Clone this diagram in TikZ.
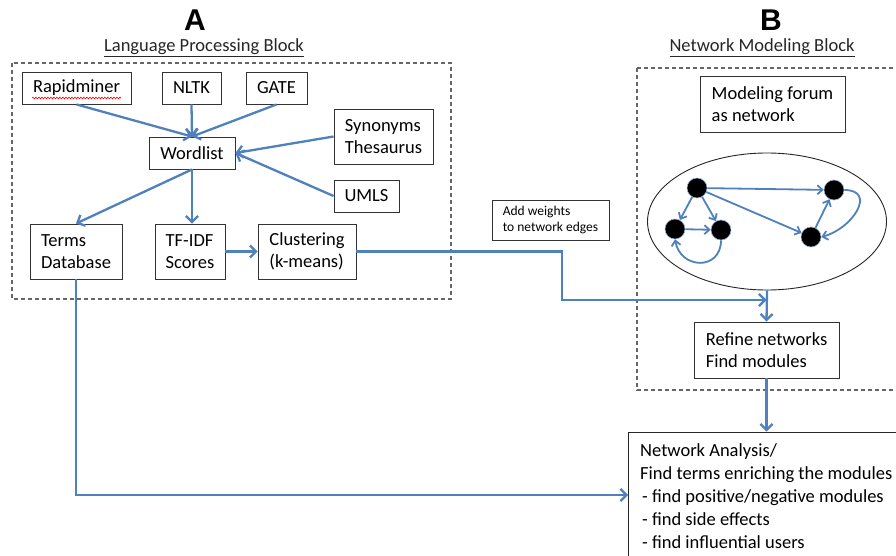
\documentclass[tikz,border=0pt]{standalone}
\usepackage{fontspec}
\setmainfont{Carlito}
\newfontfamily\arialfont{Liberation Sans}
\usetikzlibrary{arrows.meta,decorations.pathmorphing,shapes.geometric}
\definecolor{lineblue}{RGB}{79,129,189}
\begin{document}
\begin{tikzpicture}[x=1pt,y=1pt,
  box/.style={draw=black!80, line width=0.9pt, fill=white, font=\fontsize{18.5}{22}\selectfont, align=left, inner sep=0pt},
  flow/.style={draw=lineblue, line width=2.3pt, -{Straight Barb[length=6pt,width=12pt]}},
  netedge/.style={draw=lineblue, line width=1.8pt, -{Straight Barb[length=5pt,width=9pt]}},
  vtx/.style={circle, fill=black, draw=lineblue!60, line width=0.6pt, minimum size=20pt, inner sep=0pt},
  blockframe/.style={draw=black!60, line width=1.3pt, dash pattern=on 4pt off 3pt},
  heading/.style={font=\fontsize{18.5}{21}\selectfont, text=black!85},
  letter/.style={font=\arialfont\bfseries\fontsize{30}{34}\selectfont}]
\useasboundingbox (0,0) rectangle (896,-556);
\clip (0,0) rectangle (896,-556);
\fill[white] (0,0) rectangle (896,-556);

% titles
\node[letter] (A) at (195,-20) {A};
\node[letter] (B) at (771,-20) {B};
\node[heading] (lpb) at (204,-48) {\underline{Language Processing Block}};
\node[heading] (nmb) at (762,-48) {\underline{Network Modeling Block}};

% block frames
\draw[blockframe] (12,-63) rectangle (451,-299);
\draw[blockframe] (637,-68) rectangle (905,-390);

% block A
\node[box, minimum width=109pt, minimum height=32pt] (rapid) at (76.5,-88) {Rapidminer};
\draw[red, line width=0.6pt, decorate, decoration={snake, amplitude=0.9pt, segment length=3pt}] (32,-98) -- (121,-98);
\node[box, minimum width=59pt, minimum height=32pt] (nltk) at (191.5,-88) {NLTK};
\node[box, minimum width=61pt, minimum height=32pt] (gate) at (276.5,-88) {GATE};
\node[box, minimum width=99pt, minimum height=55pt] (syn) at (383.5,-136.5) {Synonyms\\Thesaurus};
\node[box, minimum width=86pt, minimum height=32pt] (word) at (192,-153) {Wordlist};
\node[box, minimum width=65pt, minimum height=32pt] (umls) at (366.5,-196) {UMLS};
\node[box, minimum width=92pt, minimum height=55pt] (terms) at (76,-251.5) {Terms\\Database};
\node[box, minimum width=70pt, minimum height=55pt] (tfidf) at (190,-251.5) {TF-IDF\\Scores};
\node[box, minimum width=98pt, minimum height=55pt] (clust) at (307,-251.5) {Clustering\\(k-means)};

\draw[flow] (rapid.south) -- (word.north);
\draw[flow] (nltk.south) -- (word.north);
\draw[flow] (gate.south) -- (word.north);
\draw[flow] (syn.west) -- (word.east);
\draw[flow] (umls.west) -- (word.east);
\draw[flow] (word.south) -- (terms.north);
\draw[flow] (word.south) -- (word.south |- tfidf.north);
\draw[flow] (tfidf.east) -- (clust.west);

% block B
\node[box, minimum width=145pt, minimum height=56pt] (model) at (772.5,-104) {Modeling forum\\as network};
\node[draw=black!85, line width=0.9pt, ellipse, minimum width=239pt, minimum height=137pt, inner sep=0pt] (ell) at (767,-221.5) {};
\node[vtx] (n1) at (697,-188) {};
\node[vtx] (n2) at (834,-190) {};
\node[vtx] (n3) at (675,-229) {};
\node[vtx] (n4) at (721,-230) {};
\node[vtx] (n5) at (811,-237) {};
\draw[netedge] (n1) -- (n2);
\draw[netedge] (n1) -- (n5);
\draw[netedge] (n1) -- (n3);
\draw[netedge] (n1) -- (n4);
\draw[netedge] (n3) -- (n4);
\draw[netedge] (n5) -- (n2);
\draw[netedge] (n2.east) to[out=0, in=15, looseness=1.6] (n5.east);
\draw[netedge] (n4.south) to[out=-90, in=-80, looseness=1.7] (n3.south);

\node[box, font=\fontsize{13.5}{16}\selectfont, minimum width=117pt, minimum height=40pt] (addw) at (550.5,-220) {Add weights\\to network edges};

\node[box, minimum width=145pt, minimum height=56pt] (refine) at (766.5,-350) {Refine networks\\Find modules};

\node[draw=black!85, line width=0.9pt, fill=white, minimum width=282pt, minimum height=138pt, inner sep=0pt] (neta) at (769,-501) {};
\node[anchor=north west, align=left, inner sep=0pt, font=\fontsize{18.5}{23}\selectfont] (netatext) at (640,-443)
  {Network Analysis/\\Find terms enriching the modules\\\hspace{2pt}- find positive/negative modules\\\hspace{2pt}- find side effects\\\hspace{2pt}- find influential users};

\coordinate (join) at (766.5,-300);
\coordinate (tail) at (628,-495);
\draw[flow] (clust.east) -- (562,-251.5) -- (562,-300) -- (join);
\draw[flow] (ell.south) -- (refine.north);
\draw[flow] (refine.south) -- (refine.south |- neta.north);
\draw[flow] (terms.south) |- (tail);
\end{tikzpicture}
\end{document}
